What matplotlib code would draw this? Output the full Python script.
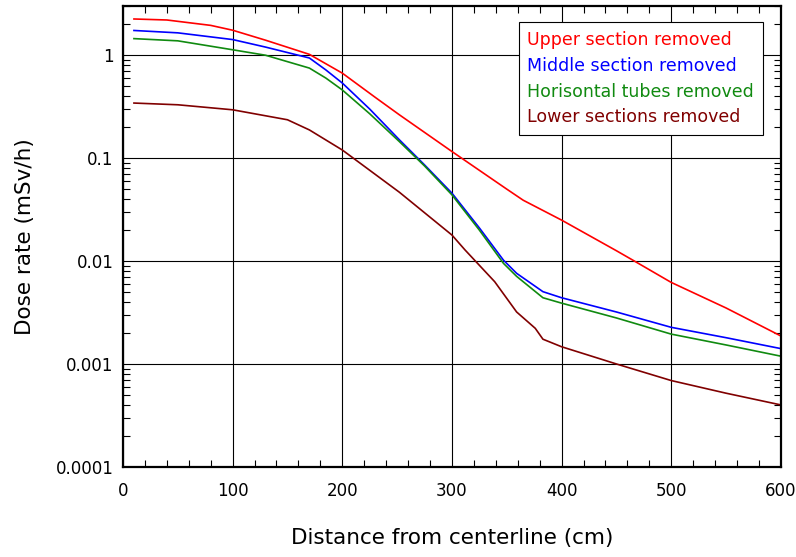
import numpy as np
import matplotlib.pyplot as plt
from matplotlib.ticker import MultipleLocator, LogLocator, FixedLocator

# Dose rate vs distance
x_upper = [10, 40, 80, 100, 130, 170, 200, 230, 252, 300, 350, 365, 400, 450, 465, 500, 550, 600]
y_upper = [2.25, 2.2, 1.95, 1.75, 1.4, 1.02, 0.67, 0.39, 0.264, 0.116, 0.05, 0.039, 0.025, 0.0126, 0.0102, 0.0062, 0.0035, 0.00187]

x_middle = [10, 50, 100, 130, 170, 185, 200, 225, 252, 275, 300, 325, 347, 359, 383, 400, 450, 500, 550, 600]
y_middle = [1.74, 1.65, 1.42, 1.2, 0.94, 0.72, 0.537, 0.3, 0.151, 0.086, 0.0457, 0.021, 0.0102, 0.0076, 0.00504, 0.0044, 0.0032, 0.00227, 0.0018, 0.00141]

x_horiz = [10, 50, 100, 130, 170, 185, 200, 225, 252, 275, 300, 325, 347, 359, 383, 400, 450, 500, 550, 600]
y_horiz = [1.45, 1.38, 1.13, 1.0, 0.75, 0.6, 0.46, 0.27, 0.145, 0.084, 0.044, 0.02, 0.0095, 0.0071, 0.0044, 0.0039, 0.0028, 0.00195, 0.00153, 0.00119]

x_lower = [10, 50, 100, 150, 170, 200, 252, 300, 312, 339, 359, 376, 383, 400, 450, 500, 550, 600]
y_lower = [0.343, 0.33, 0.295, 0.236, 0.188, 0.12, 0.0467, 0.0179, 0.0128, 0.0063, 0.0032, 0.00222, 0.00174, 0.00147, 0.001, 0.00069, 0.00052, 0.0004]

series = [
    ("Upper section removed", x_upper, y_upper, "#ff0000"),
    ("Middle section removed", x_middle, y_middle, "#0000ff"),
    ("Horisontal tubes removed", x_horiz, y_horiz, "#108a10"),
    ("Lower sections removed", x_lower, y_lower, "#800000"),
]

fig = plt.figure(figsize=(7.96, 5.57), dpi=100)
ax = fig.add_axes([0.1545, 0.1618, 0.8265, 0.8272])

for label, xs, ys, color in series:
    ax.plot(xs, ys, color=color, lw=1.2, label=label)

ax.set_yscale('log')
ax.set_xlim(0, 600)
ax.set_ylim(1e-4, 3)

ax.xaxis.set_major_locator(MultipleLocator(100))
ax.xaxis.set_minor_locator(MultipleLocator(20))
ax.yaxis.set_major_locator(FixedLocator([1e-4, 1e-3, 1e-2, 1e-1, 1]))
ax.yaxis.set_minor_locator(LogLocator(base=10, subs=np.arange(2, 10)))
ax.set_yticklabels(['0.0001', '0.001', '0.01', '0.1', '1'])
ax.yaxis.set_minor_formatter(plt.NullFormatter())

ax.tick_params(which='both', direction='in', top=True, right=True, labelsize=12)
ax.tick_params(which='major', length=0)
ax.tick_params(axis='x', which='major', pad=11)
ax.tick_params(axis='y', which='major', pad=7)
ax.tick_params(which='minor', length=5, width=0.8)
ax.grid(True, which='major', color='black', lw=0.8)
for s in ax.spines.values():
    s.set_linewidth(1.6)

ax.set_xlabel('Distance from centerline (cm)', fontsize=15.5, labelpad=20)
ax.set_ylabel('Dose rate (mSv/h)', fontsize=15.5, labelpad=15)

leg = ax.legend(loc='upper right', bbox_to_anchor=(0.9726, 0.965), borderaxespad=0,
                handlelength=0, handletextpad=0,
                fontsize=12.5, fancybox=False, framealpha=1, edgecolor='black', borderpad=0.5,
                labelspacing=0.45)
leg.get_frame().set_linewidth(0.8)
for text, (_, _, _, color) in zip(leg.get_texts(), series):
    text.set_color(color)
for h in leg.legend_handles:
    h.set_visible(False)

fig.savefig('out.png', dpi=100)
